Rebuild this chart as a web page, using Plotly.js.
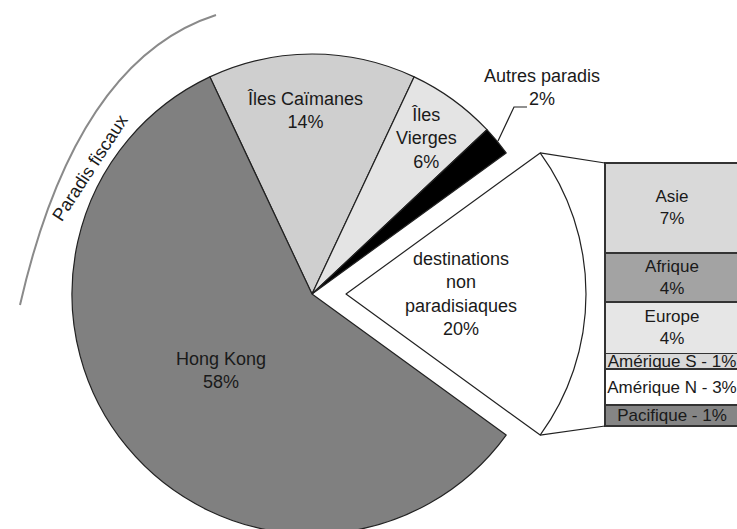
<!DOCTYPE html>
<html>
<head>
<meta charset="utf-8">
<script src="https://cdn.plot.ly/plotly-3.0.1.min.js"></script>
<style>
html,body{margin:0;padding:0;width:737px;height:529px;overflow:hidden;background:#fff;}
#chart{width:737px;height:600px;}
</style>
</head>
<body>
<div id="chart"></div>
<script>
// ---- data ----
const pieLabels = ['Îles Caïmanes', 'Îles Vierges', 'Autres paradis', 'destinations non paradisiaques', 'Hong Kong'];
const pieValues = [14, 6, 2, 20, 58];
const pieDisplay = ['Îles Caïmanes', 'Îles<br>Vierges', 'Autres paradis', 'destinations<br>non<br>paradisiaques', 'Hong Kong'];

const barLabels = ['Asie', 'Afrique', 'Europe', 'Amérique S', 'Amérique N', 'Pacifique'];
const barValues = [6.8, 3.7, 3.9, 1.2, 2.7, 1.6];   // segment heights
const barPercent = [7, 4, 4, 1, 3, 1];               // printed labels
const barTwoLines = [true, true, true, false, false, false];

const groupLabel = 'Paradis fiscaux';

// ---- styles / geometry ----
const W = 737, H = 600;
const pieColors = ['#cfcfcf', '#e4e4e4', '#000000', '#ffffff', '#808080'];
const barColors = ['#d9d9d9', '#a3a3a3', '#e6e6e6', '#d9d9d9', '#ffffff', '#858585'];
const FONT = 'Liberation Sans, Arial, sans-serif';
const TXT = '#1a1a1a';

const cx = 312, cy = 294, R = 240, pullPx = 34;
const pull = pullPx / R;
const half = R * (1 + pull);
const explodeIdx = 3;

const px = x => x / W;
const py = y => 1 - y / H;

const total = pieValues.reduce((a, b) => a + b, 0);
const rotation = -(pieValues[0] / total * 360) / 2;

// bar placement (pixels)
const barL = 605, barR = 739, barT = 163, barB = 426;
const barSum = barValues.reduce((a, b) => a + b, 0);
const unitPx = (barB - barT) / barSum;
const padPx = 2;

const traces = [];
traces.push({
  type: 'pie',
  labels: pieLabels,
  values: pieValues,
  sort: false,
  direction: 'clockwise',
  rotation: rotation,
  pull: pieValues.map((v, i) => i === explodeIdx ? pull : 0),
  marker: {colors: pieColors, line: {color: '#222', width: 1.2}},
  textinfo: 'none',
  hoverinfo: 'label+percent',
  showlegend: false,
  domain: {x: [px(cx - half), px(cx + half)], y: [py(cy + half), py(cy - half)]}
});

barLabels.forEach((lab, i) => {
  traces.push({
    type: 'bar',
    x: [0],
    y: [barValues[i]],
    width: [1],
    name: lab,
    marker: {color: barColors[i], line: {color: '#333', width: 1.5}},
    text: [barTwoLines[i] ? lab + '<br>' + barPercent[i] + '%' : lab + ' - ' + barPercent[i] + '%'],
    textposition: 'inside',
    insidetextanchor: 'middle',
    textangle: 0,
    textfont: {family: FONT, size: 17, color: TXT},
    hoverinfo: 'name',
    showlegend: false
  });
});

// pie label annotations
const pieLabelPos = [[305, 110], [426, 138], [542, 87], [461, 294], [221, 370]];
const annotations = pieLabels.map((lab, i) => ({
  xref: 'paper', yref: 'paper',
  x: px(pieLabelPos[i][0]), y: py(pieLabelPos[i][1]),
  xanchor: 'center', yanchor: 'middle',
  text: pieDisplay[i] + '<br>' + pieValues[i] + '%',
  showarrow: false,
  font: {family: FONT, size: 18, color: TXT}
}));
annotations.push({
  xref: 'paper', yref: 'paper',
  x: px(90), y: py(168),
  xanchor: 'center', yanchor: 'middle',
  text: groupLabel, textangle: -57, showarrow: false,
  font: {family: FONT, size: 18, color: TXT}
});

// connector geometry from the exploded slice
const deg = Math.PI / 180;
const before = pieValues.slice(0, explodeIdx).reduce((a, b) => a + b, 0);
const a0 = (rotation + before / total * 360) * deg;
const a1 = (rotation + (before + pieValues[explodeIdx]) / total * 360) * deg;
const am = (a0 + a1) / 2;
const ox = cx + pullPx * Math.sin(am), oy = cy - pullPx * Math.cos(am);
const c0 = [ox + R * Math.sin(a0), oy - R * Math.cos(a0)];
const c1 = [ox + R * Math.sin(a1), oy - R * Math.cos(a1)];

const lineStyle = {color: '#222', width: 1.2};
const shapes = [
  {type: 'line', xref: 'paper', yref: 'paper', x0: px(c0[0]), y0: py(c0[1]), x1: px(barL), y1: py(barT), line: lineStyle},
  {type: 'line', xref: 'paper', yref: 'paper', x0: px(c1[0]), y0: py(c1[1]), x1: px(barL), y1: py(barB), line: lineStyle},
  {type: 'path', xref: 'paper', yref: 'paper',
   path: `M ${px(498)},${py(141)} L ${px(514)},${py(107)} L ${px(527)},${py(107)}`, line: lineStyle},
  {type: 'path', xref: 'paper', yref: 'paper',
   path: `M ${px(216)},${py(15)} Q ${px(76)},${py(60)} ${px(20)},${py(305)}`, line: {color: '#8a8a8a', width: 2}}
];

const layout = {
  width: W, height: H,
  margin: {l: 0, r: 0, t: 0, b: 0, pad: 0},
  paper_bgcolor: '#fff', plot_bgcolor: 'rgba(0,0,0,0)',
  showlegend: false,
  barmode: 'stack',
  bargap: 0,
  uniformtext: {mode: 'show', minsize: 17},
  xaxis: {
    domain: [px(barL - padPx), px(barR + padPx) > 1 ? 1 : px(barR + padPx)],
    range: [-0.5 - padPx / (barR - barL), 0.5 + ((px(barR + padPx) > 1 ? W : barR + padPx) - barR) / (barR - barL)],
    visible: false, fixedrange: true
  },
  yaxis: {
    domain: [py(barB + padPx), py(barT - padPx)],
    range: [barSum + padPx / unitPx, -padPx / unitPx],
    visible: false, fixedrange: true
  },
  annotations: annotations,
  shapes: shapes
};

Plotly.newPlot('chart', traces, layout, {displayModeBar: false, staticPlot: true});
</script>
</body>
</html>
